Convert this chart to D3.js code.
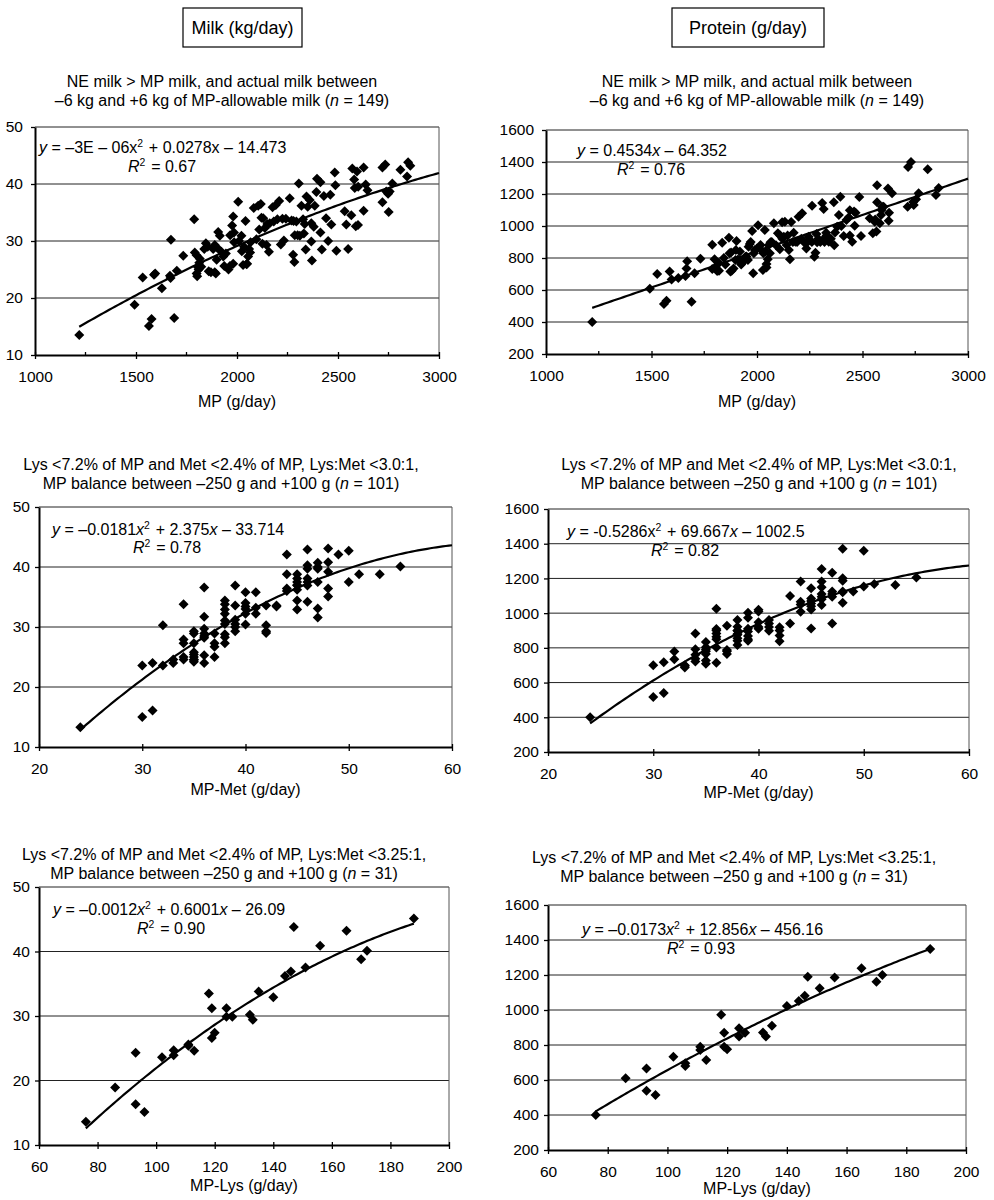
<!DOCTYPE html>
<html><head><meta charset="utf-8">
<script src="https://cdn.jsdelivr.net/npm/d3@7"></script>
<style>
body{margin:0;background:#fff}
svg{display:block}
text{font-family:"Liberation Sans",Arial,Helvetica,sans-serif;fill:#000}
</style>
</head><body>
<svg id="chart" width="994" height="1200"></svg>
<script>
// ---------------- DATA ----------------
const headers = ["Milk (kg/day)", "Protein (g/day)"];

const mpTicks = [1000, 1500, 2000, 2500, 3000];
const mpMinorTicks = [1250, 1750, 2250, 2750];
const metTicks = [20, 30, 40, 50, 60];
const lysTicks = [60, 80, 100, 120, 140, 160, 180, 200];
const milkTicks = [10, 20, 30, 40, 50];
const proteinTicks = [200, 400, 600, 800, 1000, 1200, 1400, 1600];

// Panel 1: MP (g/day) vs Milk (kg/day), n = 149
const p1MP = [1219,1493,1533,1564,1577,1589,1595,1628,1668,1673,1671,1689,1702,1734,1788,1791,1800,1803,1810,1816,1813,1823,1838,1846,1871,1882,1890,1890,1899,1902,1907,1915,1923,1932,1937,1958,1965,1966,1981,1976,1981,1986,2006,2022,2024,2030,2042,2047,2055,2060,2067,2083,2096,2105,2118,2121,2126,2138,2146,2158,2162,2176,2182,2192,2209,2217,2225,2232,2242,2261,2270,2278,2284,2286,2294,2306,2311,2319,2327,2331,2340,2344,2360,2368,2368,2371,2385,2393,2396,2413,2413,2420,2430,2441,2451,2462,2467,2484,2487,2492,2533,2541,2550,2566,2571,2580,2583,2588,2594,2599,2627,2627,2637,2646,2720,2720,2734,2739,2748,2751,2756,2769,2809,2842,2847,2858,
  1800,1805,1855,1895,1945,1985,2010,2035,2065,2110,2150,2200,2300,2335,2380,2600,2350,2050,1860,2130,2280];
const p1Milk = [13.5,18.8,23.6,15.1,16.3,24.1,24.3,21.7,23.9,30.2,23.5,16.5,24.8,27.4,33.8,28.0,24.3,23.8,25.0,26.9,26.2,25.5,28.6,29.6,24.5,28.6,24.5,29.3,26.7,28.8,31.6,30.9,28.1,27.3,25.6,25.0,25.6,31.0,34.3,32.7,26.0,29.8,36.9,30.9,28.2,25.8,33.5,25.9,27.3,28.6,29.8,35.8,30.3,36.2,36.5,34.1,29.5,32.3,29.3,28.1,33.1,35.9,33.4,36.3,37.0,29.4,33.9,30.1,33.9,37.5,33.6,27.6,26.3,31.0,33.4,40.1,30.9,36.2,33.8,31.3,28.5,37.8,37.2,33.1,29.9,26.6,36.2,38.6,40.9,40.3,31.5,28.5,37.9,34.0,30.0,38.1,32.9,42.0,39.8,28.3,35.2,32.9,28.6,34.5,42.7,40.8,39.3,32.6,42.2,32.8,42.9,35.3,39.9,38.9,42.9,36.8,43.4,38.7,38.3,35.1,38.7,40.1,42.5,41.3,43.8,43.2,
  27.5,25.5,29.0,24.3,27.8,31.5,30.0,29.0,28.0,32.0,33.0,33.8,31.0,33.0,32.5,39.5,36.0,26.0,24.7,34.0,33.5];

// Panel 2: MP (g/day) vs Protein (g/day), n = 149
const p2MP = [1219,1492,1527,1559,1571,1586,1595,1627,1661,1669,1666,1690,1704,1732,1788,1788,1799,1804,1811,1819,1835,1843,1867,1874,1877,1889,1898,1903,1919,1930,1945,1957,1966,1977,1982,1985,2005,2017,2028,2037,2040,2045,2051,2061,2064,2080,2099,2108,2119,2127,2132,2140,2151,2156,2162,2174,2182,2197,2214,2222,2234,2245,2261,2272,2277,2282,2285,2309,2316,2319,2328,2340,2364,2366,2380,2388,2395,2411,2424,2435,2440,2451,2467,2463,2485,2493,2534,2549,2558,2566,2569,2569,2582,2588,2593,2621,2624,2626,2640,2714,2716,2730,2743,2754,2766,2809,2848,2861,
  1820,1850,1870,1880,1900,1910,1925,1940,1950,1960,1970,1990,2000,2020,2030,2045,2055,2070,2090,2110,2120,2145,2170,2190,2210,2240,2260,2290,2300,2320,2330,2350,2370,2400,2440,2460,2560,2590,2600,2740];
const p2Protein = [400,608,700,513,533,715,665,675,688,779,735,527,704,796,883,731,792,746,719,769,896,800,927,715,835,735,787,906,840,771,808,787,887,969,704,829,1004,881,725,975,840,763,792,829,898,1017,954,854,1023,933,1027,881,850,792,1025,958,902,1058,1079,900,860,933,1127,808,833,950,898,1144,1106,923,958,902,1148,879,996,1069,1183,937,1038,1054,1098,902,1083,1002,1181,937,1048,954,1027,965,1254,1148,1017,1069,1121,1235,1033,1083,1204,1121,1369,1400,1131,1167,1204,1354,1194,1238,
  720,760,830,720,850,790,760,790,810,870,900,850,860,850,830,740,880,900,880,940,920,940,900,900,920,900,900,920,900,900,940,920,960,1000,940,1090,1040,1100,1120,1150];

// Panel 3: MP-Met (g/day) vs Milk (kg/day), n = 101
const p3Met = [24,30,30,31,31,32,32,33,33,34,34,34,34,34,35,35,35,35,35,35,35,35,36,36,36,36,36,36,36,37,37,37,37,38,38,38,38,38,38,38,38,39,39,39,39,39,40,40,40,40,40,41,41,41,42,42,42,42,43,43,44,44,44,45,45,45,45,45,45,45,46,46,46,46,46,46,47,47,47,47,47,48,48,48,48,48,49,50,50,51,53,55,
  35,36,38,40,45,46,47,44,39];
const p3Milk = [13.3,23.6,15.0,24.0,16.1,30.3,23.6,24.6,24.0,33.8,27.9,27.3,25.0,24.6,29.3,28.9,27.3,25.8,25.4,25.0,24.6,24.2,36.6,31.7,29.7,28.9,28.2,25.3,24.0,28.9,27.3,26.7,25.0,34.4,33.8,32.9,32.2,31.1,28.8,28.3,27.3,36.9,33.6,31.2,30.0,29.3,35.8,34.0,33.4,32.2,30.4,35.8,33.2,32.2,33.6,30.3,29.3,29.0,33.6,33.4,42.1,38.8,36.4,38.8,38.1,37.5,36.9,36.2,34.4,32.9,42.9,40.3,39.7,38.1,36.9,34.2,40.7,39.7,37.5,33.1,31.6,43.1,40.8,39.2,36.4,35.1,42.1,42.7,37.5,38.8,38.8,40.1,
  24.5,28.5,30.5,33.0,37.0,37.5,40.0,36.0,30.5];

// Panel 4: MP-Met (g/day) vs Protein (g/day), n = 101
const p4Met = [24,30,30,31,31,32,32,33,33,34,34,34,34,35,35,35,35,35,35,36,36,36,36,36,36,37,37,37,38,38,38,38,38,38,38,39,39,39,39,39,40,40,40,41,41,41,42,42,42,43,43,44,44,44,45,45,45,45,45,46,46,46,46,46,47,47,47,47,48,48,48,48,48,49,50,50,51,53,55,
  34,35,36,36,37,38,38,39,39,40,40,41,42,44,45,45,46,46,47,48,33];
const p4Protein = [400,700,517,717,540,779,735,700,687,883,792,737,721,834,804,781,765,727,708,1025,908,883,864,802,714,927,787,764,960,921,898,875,856,841,817,1002,973,894,869,841,1019,948,910,960,941,898,919,871,838,1099,941,1182,1066,1008,1143,1085,1056,1021,912,1255,1182,1149,1095,1047,1233,1124,1095,941,1371,1201,1186,1124,1060,1124,1360,1153,1168,1162,1205,
  760,790,850,900,780,900,880,910,850,920,1010,920,900,1050,1040,1070,1080,1110,1110,1120,695];

// Panels 5 & 6: MP-Lys (g/day), n = 31
const lysX = [76,86,93,93,96,102,106,106,111,111,113,118,119,119,120,124,124,126,132,133,135,140,144,146,147,151,156,165,170,172,188];
const p5Milk = [13.6,18.9,24.3,16.3,15.1,23.6,24.7,23.9,25.6,25.4,24.6,33.5,31.2,26.6,27.4,31.2,29.9,29.9,30.2,29.4,33.8,32.9,36.2,36.9,43.8,37.5,40.9,43.2,38.8,40.1,45.1];
const p6Protein = [400,610,665,539,514,733,695,680,790,771,714,973,870,790,775,895,848,870,872,848,910,1023,1051,1082,1190,1124,1185,1238,1162,1200,1349];

// Fitted trend-line coefficients [a (x^2), b (x), c]
const fit1 = [-3e-6, 0.0278, -14.473];
const fit2 = [0, 0.4534, -64.352];
const fit3 = [-0.0181, 2.375, -33.714];
const fit4 = [-0.5286, 69.667, -1002.5];
const fit5 = [-0.0012, 0.6001, -26.09];
const fit6 = [-0.0173, 12.856, -456.16];

// Text
const titleA = [[["NE milk > MP milk, and actual milk between",""]], [["–6 kg and +6 kg of MP-allowable milk (",""],["n","i"],[" = 149)",""]]];
const titleB = [[["Lys <7.2% of MP and Met <2.4% of MP, Lys:Met <3.0:1,",""]], [["MP balance between –250 g and +100 g (",""],["n","i"],[" = 101)",""]]];
const titleC = [[["Lys <7.2% of MP and Met <2.4% of MP, Lys:Met <3.25:1,",""]], [["MP balance between –250 g and +100 g (",""],["n","i"],[" = 31)",""]]];
const eq1 = [["y","i"],[" = –3E – 06x",""],["2","sup"],[" + 0.0278x – 14.473",""]];
const eq2 = [["y","i"],[" = 0.4534",""],["x","i"],[" – 64.352",""]];
const eq3 = [["y","i"],[" = –0.0181",""],["x","i"],["2","sup"],[" + 2.375",""],["x","i"],[" – 33.714",""]];
const eq4 = [["y","i"],[" = -0.5286x",""],["2","sup"],[" + 69.667",""],["x","i"],[" – 1002.5",""]];
const eq5 = [["y","i"],[" = –0.0012",""],["x","i"],["2","sup"],[" + 0.6001",""],["x","i"],[" – 26.09",""]];
const eq6 = [["y","i"],[" = –0.0173",""],["x","i"],["2","sup"],[" + 12.856",""],["x","i"],[" – 456.16",""]];
const r2Values = ["0.67", "0.76", "0.78", "0.82", "0.90", "0.93"];
const xLabels = ["MP (g/day)", "MP (g/day)", "MP-Met (g/day)", "MP-Met (g/day)", "MP-Lys (g/day)", "MP-Lys (g/day)"];

// ---------------- LAYOUT ----------------
const panels = [
  {xs:p1MP, ys:p1Milk, xd:[1000,3000], yd:[10,50], xt:mpTicks, xm:mpMinorTicks, yt:milkTicks, fit:fit1, fr:[1219,3000], title:titleA, eq:eq1, r2:r2Values[0], xl:xLabels[0],
   L:35, R:439, T:127, B:355, tx:222, ty:87, ex:39, ey:153, rx:128, ry:172, xlY:407, ypad:8},
  {xs:p2MP, ys:p2Protein, xd:[1000,3000], yd:[200,1600], xt:mpTicks, xm:mpMinorTicks, yt:proteinTicks, fit:fit2, fr:[1219,3000], title:titleA, eq:eq2, r2:r2Values[1], xl:xLabels[1],
   L:546, R:968, T:130, B:354, tx:757, ty:87, ex:577, ey:156, rx:617, ry:175, xlY:407, ypad:8},
  {xs:p3Met, ys:p3Milk, xd:[20,60], yd:[10,50], xt:metTicks, xm:[], yt:milkTicks, fit:fit3, fr:[24,60], title:titleB, eq:eq3, r2:r2Values[2], xl:xLabels[2],
   L:39, R:452, T:507, B:747, tx:221, ty:470, ex:52, ey:535, rx:133, ry:553, xlY:795, ypad:5},
  {xs:p4Met, ys:p4Protein, xd:[20,60], yd:[200,1600], xt:metTicks, xm:[], yt:proteinTicks, fit:fit4, fr:[24,60], title:titleB, eq:eq4, r2:r2Values[3], xl:xLabels[3],
   L:548, R:969, T:509, B:752, tx:759, ty:470, ex:567, ey:537, rx:651, ry:556, xlY:798, ypad:5},
  {xs:lysX, ys:p5Milk, xd:[60,200], yd:[10,50], xt:lysTicks, xm:[], yt:milkTicks, fit:fit5, fr:[76,188], title:titleC, eq:eq5, r2:r2Values[4], xl:xLabels[4],
   L:39, R:449, T:887, B:1145, tx:224, ty:860, ex:53, ey:915, rx:137, ry:934, xlY:1191, ypad:5},
  {xs:lysX, ys:p6Protein, xd:[60,200], yd:[200,1600], xt:lysTicks, xm:[], yt:proteinTicks, fit:fit6, fr:[76,188], title:titleC, eq:eq6, r2:r2Values[5], xl:xLabels[5],
   L:548, R:966, T:905, B:1150, tx:734, ty:863, ex:582, ey:935, rx:667, ry:954, xlY:1194, ypad:5}
];

const svg = d3.select("#chart");
const FS = 16, TFS = 15.5;

// header boxes
const hdr = [{t:headers[0], x:183, w:119}, {t:headers[1], x:672, w:152}];
hdr.forEach(h => {
  svg.append("rect").attr("x", h.x).attr("y", 8).attr("width", h.w).attr("height", 39)
    .attr("fill", "#fff").attr("stroke", "#000").attr("stroke-width", 1.2);
  svg.append("text").attr("x", h.x + h.w/2).attr("y", 34).attr("text-anchor", "middle")
    .attr("font-size", 18).text(h.t);
});

function richText(sel, parts, fs) {
  parts.forEach(([t, st]) => {
    if (st === "sup") {
      sel.append("tspan").attr("dy", -6).attr("font-size", fs*0.65).text(t);
      sel.append("tspan").attr("dy", 6).text("\u200A");
    } else {
      const ts = sel.append("tspan").text(t);
      if (st === "i") ts.attr("font-style", "italic");
    }
  });
}

panels.forEach(p => {
  const g = svg.append("g");
  const x = d3.scaleLinear().domain(p.xd).range([p.L, p.R]);
  const y = d3.scaleLinear().domain(p.yd).range([p.B, p.T]);

  // horizontal gridlines
  g.append("g").selectAll("line")
    .data(p.yt.filter(t => t > p.yd[0] && t < p.yd[1]))
    .join("line")
    .attr("x1", p.L).attr("x2", p.R)
    .attr("y1", d => y(d)).attr("y2", d => y(d))
    .attr("stroke", "#222").attr("stroke-width", 1);

  // top and right frame
  g.append("line").attr("x1", p.L).attr("x2", p.R).attr("y1", y(p.yd[1])).attr("y2", y(p.yd[1]))
    .attr("stroke", "#222").attr("stroke-width", 1);
  g.append("line").attr("x1", p.R).attr("x2", p.R).attr("y1", y(p.yd[1])).attr("y2", y(p.yd[0]))
    .attr("stroke", "#555").attr("stroke-width", 1);

  // y axis
  const ya = g.append("g").attr("transform", `translate(${p.L},0)`)
    .call(d3.axisLeft(y).tickValues(p.yt).tickSize(4).tickSizeOuter(0).tickPadding(p.ypad).tickFormat(d3.format("d")));
  // x axis
  const xa = g.append("g").attr("transform", `translate(0,${p.B})`)
    .call(d3.axisBottom(x).tickValues(p.xt).tickSize(4).tickSizeOuter(0).tickPadding(12).tickFormat(d3.format("d")));
  [ya, xa].forEach(a => {
    a.select(".domain").attr("stroke", "#000").attr("stroke-width", 2);
    a.selectAll(".tick line").attr("stroke", "#000").attr("stroke-width", 1.3);
    a.selectAll("text").attr("font-size", TFS).attr("fill", "#000")
      .attr("font-family", '"Liberation Sans",Arial,sans-serif');
  });
  xa.selectAll(".tick line").attr("y1", -3);
  // minor x ticks
  g.append("g").selectAll("line").data(p.xm).join("line")
    .attr("x1", d => x(d)).attr("x2", d => x(d))
    .attr("y1", p.B - 3).attr("y2", p.B + 1)
    .attr("stroke", "#000").attr("stroke-width", 1.3);

  // trend line
  const [a, b, c] = p.fit;
  const fx = d3.range(p.fr[0], p.fr[1], (p.fr[1] - p.fr[0]) / 120).concat([p.fr[1]]);
  g.append("path")
    .datum(fx)
    .attr("fill", "none").attr("stroke", "#000").attr("stroke-width", 2.2)
    .attr("d", d3.line().x(v => x(v)).y(v => y(a*v*v + b*v + c)));

  // points
  const pts = p.xs.map((v, i) => [v, p.ys[i]]);
  g.append("g").selectAll("path").data(pts).join("path")
    .attr("d", d3.symbol().type(d3.symbolSquare).size(50))
    .attr("transform", d => `translate(${x(d[0])},${y(d[1])}) rotate(45)`)
    .attr("fill", "#000");

  // title
  p.title.forEach((line, i) => {
    const t = g.append("text").attr("x", p.tx).attr("y", p.ty + i*19)
      .attr("text-anchor", "middle").attr("font-size", FS);
    richText(t, line, FS);
  });

  // equation and R2
  const et = g.append("text").attr("x", p.ex).attr("y", p.ey).attr("font-size", FS);
  richText(et, p.eq, FS);
  const rt = g.append("text").attr("x", p.rx).attr("y", p.ry).attr("font-size", FS);
  richText(rt, [["R","i"],["2","sup"],[" = " + p.r2, ""]], FS);

  // x axis label
  g.append("text").attr("x", (p.L + p.R)/2).attr("y", p.xlY)
    .attr("text-anchor", "middle").attr("font-size", FS).text(p.xl);
});
</script>
</body></html>
